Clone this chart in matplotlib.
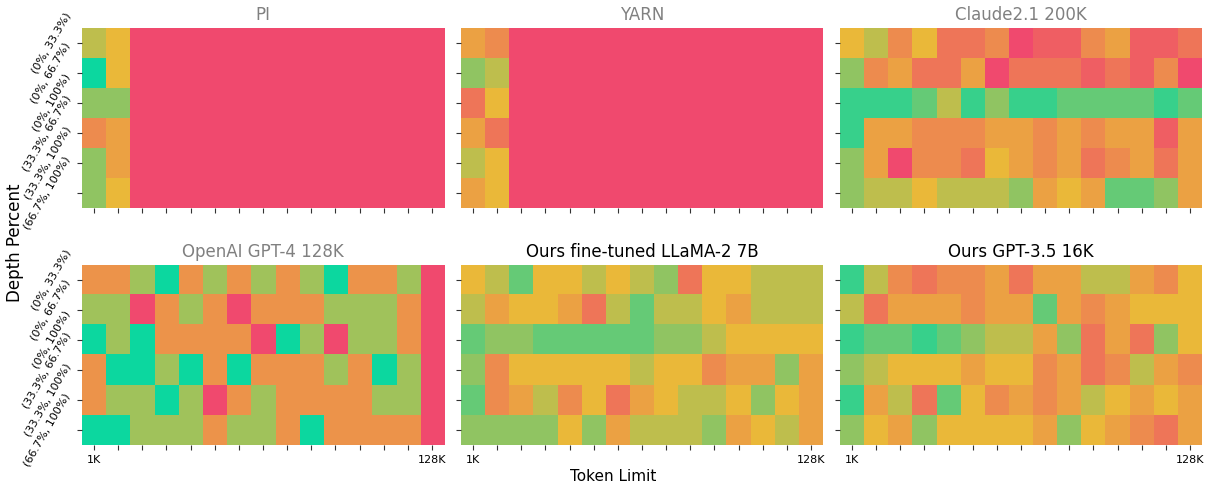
import numpy as np
import matplotlib
matplotlib.use('Agg')
import matplotlib.pyplot as plt
from matplotlib.colors import LinearSegmentedColormap

# depth ranges (rows) and context lengths (columns)
depth_labels = ['(0%, 33.3%)', '(0%, 66.7%)', '(0%, 100%)',
                '(33.3%, 66.7%)', '(33.3%, 100%)', '(66.7%, 100%)']
n_cols = 15
x_labels = ['1K'] + [''] * (n_cols - 2) + ['128K']

# scores on a 0-10 scale
pi_scores = [
    [6, 5] + [0] * 13,
    [10, 5] + [0] * 13,
    [7, 7] + [0] * 13,
    [3, 4] + [0] * 13,
    [7, 4] + [0] * 13,
    [7, 5] + [0] * 13,
]
yarn_scores = [
    [4, 3] + [0] * 13,
    [7, 6] + [0] * 13,
    [2, 5] + [0] * 13,
    [4, 2] + [0] * 13,
    [6, 5] + [0] * 13,
    [4, 5] + [0] * 13,
]
claude_scores = [
    [5, 6, 3, 5, 2, 2, 3, 0, 1, 1, 3, 4, 1, 1, 2],
    [7, 3, 4, 2, 2, 4, 0, 2, 2, 2, 1, 2, 1, 3, 0],
    [9, 9, 9, 8, 6, 9, 7, 9, 9, 8, 8, 8, 8, 9, 8],
    [9, 4, 4, 3, 3, 3, 4, 4, 3, 4, 3, 4, 4, 1, 4],
    [7, 4, 0, 3, 3, 2, 5, 4, 3, 4, 2, 3, 4, 2, 4],
    [7, 6, 6, 5, 6, 6, 6, 7, 4, 5, 4, 8, 8, 7, 4],
]
O, G, T = 10 / 3, 20 / 3, 10
gpt4_scores = [
    [O, O, G, T, O, G, O, G, O, G, T, O, O, G, 0],
    [G, G, 0, O, G, O, 0, O, O, O, G, G, G, O, 0],
    [T, G, T, O, O, O, O, 0, T, G, 0, G, G, O, 0],
    [O, T, T, G, T, O, T, O, O, O, G, O, T, G, 0],
    [O, G, G, T, G, 0, O, G, O, O, O, O, G, G, 0],
    [T, T, G, G, G, O, G, G, O, T, O, O, O, O, 0],
]
llama_scores = [
    [5, 6, 8, 5, 5, 6, 5, 6, 7, 2, 5, 5, 6, 6, 6],
    [6, 4, 5, 5, 4, 2, 6, 8, 6, 6, 5, 4, 6, 6, 6],
    [8, 7, 7, 8, 8, 8, 8, 8, 7, 7, 6, 5, 5, 5, 5],
    [7, 3, 5, 5, 5, 5, 5, 6, 5, 5, 3, 4, 4, 7, 4],
    [8, 3, 4, 6, 3, 5, 2, 4, 5, 6, 6, 5, 7, 5, 4],
    [7, 7, 7, 7, 5, 7, 4, 6, 6, 6, 7, 4, 5, 6, 4],
]
gpt35_scores = [
    [9, 6, 3, 2, 3, 3, 4, 2, 4, 4, 6, 6, 4, 3, 5],
    [6, 2, 4, 4, 4, 3, 4, 4, 8, 4, 3, 4, 5, 5, 5],
    [9, 8, 8, 9, 8, 7, 6, 6, 4, 7, 2, 4, 2, 7, 5],
    [7, 6, 5, 5, 5, 4, 5, 5, 3, 4, 2, 3, 6, 4, 3],
    [9, 4, 6, 2, 8, 5, 3, 4, 3, 4, 6, 5, 4, 5, 4],
    [7, 5, 4, 7, 5, 5, 5, 5, 4, 7, 5, 4, 3, 2, 4],
]

titles = ['PI', 'YARN', 'Claude2.1 200K',
          'OpenAI GPT-4 128K', 'Ours fine-tuned LLaMA-2 7B', 'Ours GPT-3.5 16K']
title_colors = ['grey', 'grey', 'grey', 'grey', 'black', 'black']
all_scores = [pi_scores, yarn_scores, claude_scores,
              gpt4_scores, llama_scores, gpt35_scores]

cmap = LinearSegmentedColormap.from_list(
    'custom_cmap', ['#F0496E', '#EBB839', '#0CD79F'])

fig = plt.figure(figsize=(12.11, 4.86), dpi=100)
W, H = 1211, 486
lefts = [82, 461, 840]
tops = [28, 265]
aw, ah = 362, 180

for i, scores in enumerate(all_scores):
    r, c = divmod(i, 3)
    ax = fig.add_axes([lefts[c] / W, 1 - (tops[r] + ah) / H, aw / W, ah / H])
    data = np.array(scores, dtype=float)
    ax.imshow(data, cmap=cmap, vmin=0, vmax=10, aspect='auto',
              interpolation='nearest')
    for s in ax.spines.values():
        s.set_visible(False)
    ax.set_title(titles[i], color=title_colors[i], fontsize=12)
    ax.set_yticks(np.arange(len(depth_labels)))
    ax.set_xticks(np.arange(n_cols))
    ax.tick_params(length=3.5, width=0.8, colors='#333333', labelsize=8,
                   labelcolor='black')
    if c == 0:
        ax.set_yticklabels(depth_labels, rotation=60, va='center')
    else:
        ax.set_yticklabels([])
    if r == 1:
        ax.set_xticklabels(x_labels)
    else:
        ax.set_xticklabels([])

fig.text(0.012, 0.5, 'Depth Percent', rotation=90, va='center',
         ha='center', fontsize=12)
fig.text(613 / W, 1 - 476 / H, 'Token Limit', ha='center', va='center',
         fontsize=11)

fig.savefig('out.png', dpi=100)
